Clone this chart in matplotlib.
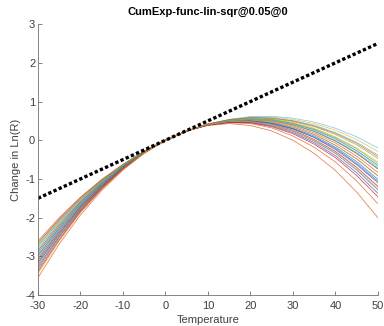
import matplotlib
matplotlib.use("Agg")
import matplotlib.pyplot as plt

temps = [-30, -25, -20, -15, -10, -5, 0, 5, 10, 15, 20, 25, 30, 35, 40, 45, 50]

# change in Ln(R) for every curve at the temperatures above
curves = [
    [-2.90, -2.22, -1.61, -1.10, -0.67, -0.30, 0.00, 0.24, 0.41, 0.51, 0.55, 0.53, 0.43, 0.27, 0.04, -0.27, -0.65],
    [-3.55, -2.68, -1.93, -1.30, -0.77, -0.34, 0.00, 0.24, 0.38, 0.43, 0.38, 0.24, 0.00, -0.34, -0.78, -1.34, -2.00],
    [-2.70, -2.07, -1.52, -1.04, -0.64, -0.29, 0.00, 0.24, 0.42, 0.53, 0.60, 0.60, 0.54, 0.43, 0.26, 0.02, -0.29],
    [-3.05, -2.32, -1.69, -1.15, -0.69, -0.31, 0.00, 0.24, 0.40, 0.50, 0.52, 0.47, 0.34, 0.15, -0.13, -0.48, -0.92],
    [-2.80, -2.14, -1.57, -1.07, -0.65, -0.29, 0.00, 0.24, 0.41, 0.52, 0.58, 0.56, 0.48, 0.35, 0.15, -0.12, -0.47],
    [-2.95, -2.25, -1.64, -1.12, -0.68, -0.30, 0.00, 0.24, 0.42, 0.53, 0.59, 0.58, 0.51, 0.39, 0.20, -0.05, -0.38],
    [-2.65, -2.04, -1.49, -1.03, -0.63, -0.28, 0.00, 0.24, 0.41, 0.51, 0.54, 0.51, 0.40, 0.23, -0.02, -0.34, -0.74],
    [-3.15, -2.40, -1.73, -1.18, -0.71, -0.31, 0.00, 0.24, 0.40, 0.49, 0.51, 0.45, 0.31, 0.11, -0.18, -0.55, -1.01],
    [-2.60, -2.00, -1.47, -1.01, -0.62, -0.28, 0.00, 0.24, 0.41, 0.50, 0.53, 0.49, 0.37, 0.19, -0.07, -0.41, -0.83],
    [-3.00, -2.29, -1.66, -1.13, -0.68, -0.30, 0.00, 0.24, 0.41, 0.52, 0.56, 0.54, 0.46, 0.31, 0.09, -0.20, -0.56],
    [-2.85, -2.18, -1.59, -1.09, -0.66, -0.30, 0.00, 0.24, 0.40, 0.49, 0.50, 0.43, 0.29, 0.07, -0.24, -0.63, -1.10],
    [-3.20, -2.43, -1.76, -1.20, -0.72, -0.32, 0.00, 0.24, 0.41, 0.51, 0.54, 0.51, 0.40, 0.23, -0.02, -0.34, -0.74],
    [-2.75, -2.11, -1.54, -1.06, -0.64, -0.29, 0.00, 0.24, 0.42, 0.54, 0.61, 0.62, 0.57, 0.47, 0.31, 0.09, -0.20],
    [-3.10, -2.36, -1.71, -1.17, -0.70, -0.31, 0.00, 0.24, 0.40, 0.48, 0.48, 0.41, 0.26, 0.02, -0.29, -0.70, -1.19],
    [-3.25, -2.47, -1.78, -1.21, -0.72, -0.32, 0.00, 0.24, 0.40, 0.47, 0.47, 0.39, 0.23, -0.02, -0.34, -0.77, -1.28],
    [-3.35, -2.54, -1.83, -1.24, -0.74, -0.33, 0.00, 0.24, 0.39, 0.45, 0.43, 0.32, 0.11, -0.18, -0.56, -1.05, -1.64],
    [-2.92, -2.23, -1.62, -1.11, -0.67, -0.30, 0.00, 0.24, 0.40, 0.50, 0.52, 0.47, 0.34, 0.15, -0.13, -0.48, -0.92],
    [-3.30, -2.50, -1.81, -1.23, -0.73, -0.32, 0.00, 0.24, 0.39, 0.47, 0.46, 0.37, 0.20, -0.06, -0.40, -0.84, -1.37],
    [-2.72, -2.09, -1.53, -1.05, -0.64, -0.29, 0.00, 0.24, 0.41, 0.52, 0.56, 0.54, 0.44, 0.29, 0.07, -0.22, -0.60],
    [-3.05, -2.32, -1.69, -1.15, -0.69, -0.31, 0.00, 0.24, 0.41, 0.51, 0.55, 0.51, 0.41, 0.24, 0.00, -0.31, -0.70],
    [-3.40, -2.58, -1.85, -1.26, -0.75, -0.33, 0.00, 0.24, 0.39, 0.46, 0.45, 0.35, 0.17, -0.10, -0.45, -0.91, -1.46],
    [-2.98, -2.27, -1.65, -1.13, -0.68, -0.30, 0.00, 0.24, 0.40, 0.49, 0.50, 0.44, 0.30, 0.08, -0.21, -0.60, -1.06],
    [-3.18, -2.42, -1.75, -1.19, -0.71, -0.31, 0.00, 0.24, 0.42, 0.53, 0.58, 0.57, 0.50, 0.37, 0.18, -0.08, -0.42],
    [-3.45, -2.61, -1.88, -1.27, -0.76, -0.33, 0.00, 0.24, 0.40, 0.48, 0.48, 0.40, 0.24, 0.00, -0.32, -0.74, -1.24],
]

# the linear reference line (slope 0.05)
ref_temps = [-30, 50]
ref_vals = [-1.5, 2.5]

x_ticks = [-30, -20, -10, 0, 10, 20, 30, 40, 50]
y_ticks = [-4, -3, -2, -1, 0, 1, 2, 3]

# matlab default colour order
colors = ['#0072BD', '#D95319', '#EDB120', '#7E2F8E', '#77AC30', '#4DBEEE', '#A2142F']

plt.rcParams['font.family'] = ['Liberation Sans', 'DejaVu Sans']
plt.rcParams['font.size'] = 8
plt.rcParams['axes.unicode_minus'] = False

fig = plt.figure(figsize=(3.84, 3.26), dpi=100)
ax = fig.add_axes([0.099, 0.095, 0.885, 0.831])

for i, vals in enumerate(curves):
    ax.plot(temps, vals, color=colors[i % len(colors)], lw=0.55, alpha=0.75,
            solid_joinstyle='round')

ax.plot(ref_temps, ref_vals, color='black', lw=2.4, linestyle=(0, (1.0, 0.7)),
        dash_capstyle='butt')

ax.set_xlim(-30, 50)
ax.set_ylim(-4, 3)
ax.set_xticks(x_ticks)
ax.set_yticks(y_ticks)

axis_grey = '#707070'
for side in ['top', 'right']:
    ax.spines[side].set_visible(False)
for side in ['left', 'bottom']:
    ax.spines[side].set_color(axis_grey)
    ax.spines[side].set_linewidth(0.6)
ax.tick_params(direction='in', length=3, width=0.6, color=axis_grey,
               labelcolor='#404040', labelsize=8)
ax.tick_params(axis='x', pad=4)
ax.tick_params(axis='y', pad=2)

ax.set_title('CumExp-func-lin-sqr@0.05@0', fontsize=8, fontweight='bold', pad=7)
ax.set_xlabel('Temperature', fontsize=8, color='#404040', labelpad=3)
ax.set_ylabel('Change in Ln(R)', fontsize=8, color='#404040', labelpad=3)

fig.savefig('out.png', dpi=100)
